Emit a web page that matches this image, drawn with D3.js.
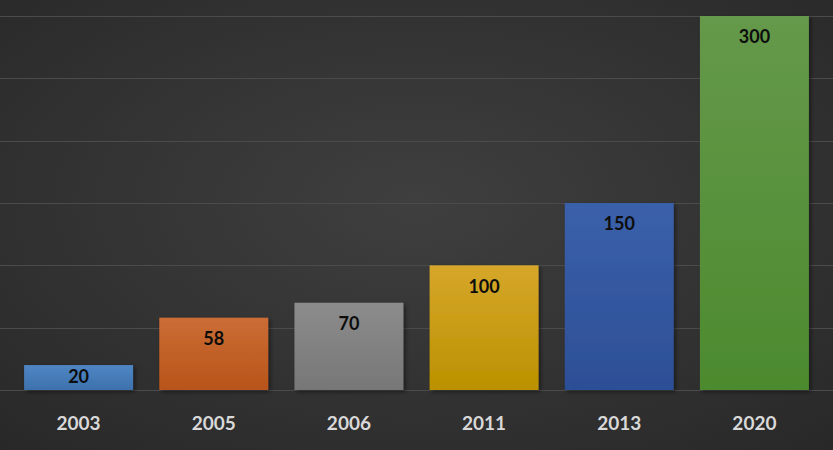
<!DOCTYPE html>
<html>
<head>
<meta charset="utf-8">
<script src="https://cdn.jsdelivr.net/npm/d3@7"></script>
<style>
  html, body { margin: 0; padding: 0; background: #2e2e2e; }
  svg { display: block; }
</style>
</head>
<body>
<div id="chart"></div>
<script>
// data
const years = ['2003', '2005', '2006', '2011', '2013', '2020'];
const values = [20, 58, 70, 100, 150, 300];
const barTop = ['#4f86c4', '#cb6d35', '#8c8c8c', '#d6a72a', '#3b60aa', '#65994b'];
const barBottom = ['#3c71ad', '#b8541a', '#777777', '#bb9100', '#2c4f96', '#4c8a2e'];
const gridTicks = [0, 50, 100, 150, 200, 250, 300];

const width = 833;
const height = 450;

const svg = d3.select('#chart')
  .append('svg')
  .attr('width', width)
  .attr('height', height);

const defs = svg.append('defs');

// background radial gradient
const bg = defs.append('radialGradient')
  .attr('id', 'bg')
  .attr('cx', '50%').attr('cy', '45%').attr('r', '75%');
bg.append('stop').attr('offset', '0%').attr('stop-color', '#3f3f3f');
bg.append('stop').attr('offset', '100%').attr('stop-color', '#282828');

svg.append('rect')
  .attr('width', width)
  .attr('height', height)
  .attr('fill', 'url(#bg)');

// bar gradients
years.forEach((y, i) => {
  const g = defs.append('linearGradient')
    .attr('id', 'bar' + i)
    .attr('x1', 0).attr('y1', 0).attr('x2', 0).attr('y2', 1);
  g.append('stop').attr('offset', '0%').attr('stop-color', barTop[i]);
  g.append('stop').attr('offset', '100%').attr('stop-color', barBottom[i]);
});

const shadow = defs.append('filter')
  .attr('id', 'shadow')
  .attr('x', '-10%').attr('y', '-10%').attr('width', '130%').attr('height', '130%');
shadow.append('feDropShadow')
  .attr('dx', 2).attr('dy', 2).attr('stdDeviation', 2)
  .attr('flood-color', '#000').attr('flood-opacity', 0.45);

const x = d3.scaleBand()
  .domain(years)
  .range([11, 822])
  .paddingInner(0.194)
  .paddingOuter(0.097);

const y = d3.scaleLinear()
  .domain([0, 300])
  .range([390, 16]);

// gridlines
svg.append('g')
  .selectAll('line')
  .data(gridTicks)
  .enter()
  .append('line')
  .attr('x1', 0)
  .attr('x2', width)
  .attr('y1', d => Math.round(y(d)) + 0.5)
  .attr('y2', d => Math.round(y(d)) + 0.5)
  .attr('stroke', '#4b4b4b')
  .attr('stroke-width', 1);

// bars
svg.append('g')
  .selectAll('rect')
  .data(values)
  .enter()
  .append('rect')
  .attr('x', (d, i) => x(years[i]))
  .attr('y', d => y(d))
  .attr('width', x.bandwidth())
  .attr('height', d => y(0) - y(d))
  .attr('fill', (d, i) => `url(#bar${i})`)
  .attr('filter', 'url(#shadow)');

// value labels
svg.append('g')
  .selectAll('text')
  .data(values)
  .enter()
  .append('text')
  .attr('x', (d, i) => x(years[i]) + x.bandwidth() / 2)
  .attr('y', d => Math.min(y(d) + 21, (y(d) + y(0)) / 2 - 1))
  .attr('dy', '0.35em')
  .attr('text-anchor', 'middle')
  .attr('font-family', 'Lato, "Open Sans", sans-serif')
  .attr('font-weight', 'bold')
  .attr('font-size', '18px')
  .attr('fill', '#0d0d0d')
  .text(d => d);

// x axis labels
const xAxis = svg.append('g')
  .attr('transform', `translate(0,${y(0)})`)
  .call(d3.axisBottom(x).tickSize(0).tickPadding(27));
xAxis.select('.domain').remove();
xAxis.selectAll('text')
  .attr('font-family', 'Lato, "Open Sans", sans-serif')
  .attr('font-weight', 'bold')
  .attr('font-size', '19px')
  .attr('fill', '#d9d9d9');
</script>
</body>
</html>
